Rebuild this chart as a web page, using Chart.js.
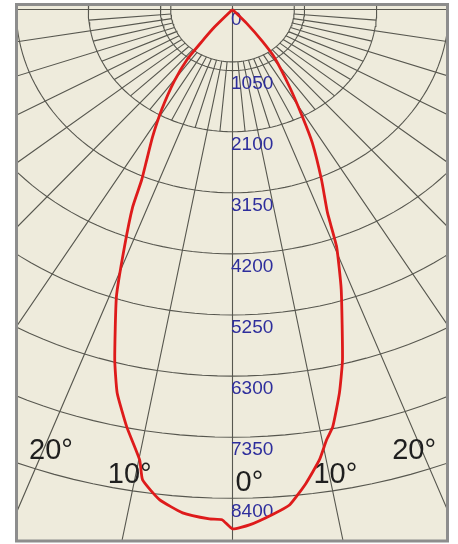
<!DOCTYPE html>
<html>
<head>
<meta charset="utf-8">
<script src="https://cdn.jsdelivr.net/npm/chart.js@4.4.1/dist/chart.umd.min.js"></script>
<style>
  html, body { margin: 0; padding: 0; background: #fff; }
  #wrap { position: relative; width: 458px; height: 544px; }
</style>
</head>
<body>
<div id="wrap"><canvas id="chart" width="458" height="544"></canvas></div>
<script>
// intensity curve, angle from nadir (deg, negative = left) and candela
const curveAngles = [-42, -41, -39, -37.6, -34.5, -30.9, -28, -25.8, -24.3, -23.2, -21.1, -18.9, -15.9, -14.3, -12.1, -9.9, -9.2, -7.2, -4.8, -2.2, -1.0,
  0, 1.6, 3.8, 5.6, 7.5, 9.3, 10.5, 11.5, 13.3, 14.9, 18.2, 20.4, 21.6, 23.9, 26.9, 28.9, 32, 36.5, 38.5, 41, 42]
const curveCandela = [0, 400, 715, 1075, 1500, 2010, 2480, 2870, 3215, 3690, 4370, 5220, 6260, 6800, 7340, 7860, 8190, 8490, 8680, 8760, 8770,
  8925, 8860, 8700, 8550, 8210, 7840, 7520, 7320, 6770, 6230, 5070, 4350, 3760, 3200, 2570, 2110, 1570, 1030, 700, 310, 0]

// grid
const ringValues = [0, 1050, 2100, 3150, 4200, 5250, 6300, 7350, 8400]
const innerBand = 900
const majorSpokes = [-80, -70, -60, -50, -40, -30, -20, -10, 10, 20, 30, 40, 50, 60, 70, 80]
const minorSpokes = [-85, -75, -65, -55, -45, -35, -25, -15, -5, 5, 15, 25, 35, 45, 55, 65, 75, 85]
const minorSpokeEnd = 2100
const angleLabels = [-20, -10, 0, 10, 20]

// pixel geometry of the (horizontally stretched) diagram
const ringPx = 61.1          // px per 1050 cd down the axis
const stretch = 1.18         // horizontal / vertical
const origin = { x: 232.5, y: 9.5 }
const area = { left: 17, right: 447, top: 5, bottom: 540 }
const pxY = ringPx / 1050
const pxX = pxY * stretch

const rad = d => d * Math.PI / 180
const polar = (deg, r) => ({ x: r * Math.sin(rad(deg)), y: r * Math.cos(rad(deg)) })
const gap = { x: NaN, y: NaN }

const ringPoints = []
ringValues.concat([innerBand]).forEach(r => {
    if (r === 0) return
    for (let d = -100; d <= 100; d += 2) ringPoints.push(polar(d, r))
    ringPoints.push(gap)
})

const spokePoints = []
majorSpokes.forEach(a => { spokePoints.push(polar(a, innerBand), polar(a, 20000), gap) })
minorSpokes.forEach(a => { spokePoints.push(polar(a, innerBand), polar(a, minorSpokeEnd), gap) })
// axis lines through the origin
spokePoints.push({ x: -20000, y: 0 }, { x: 20000, y: 0 }, gap)
spokePoints.push({ x: 0, y: -20000 }, { x: 0, y: 20000 }, gap)

const curvePoints = curveAngles.map((a, i) => polar(a, curveCandela[i]))

const gridColor = '#57574f'

const framePlugin = {
    id: 'frame',
    beforeDraw(chart) {
        const { ctx, chartArea } = chart
        ctx.save()
        ctx.fillStyle = '#ffffff'
        ctx.fillRect(0, 0, chart.width, chart.height)
        ctx.fillStyle = '#eeebdc'
        ctx.fillRect(chartArea.left, chartArea.top, chartArea.right - chartArea.left, chartArea.bottom - chartArea.top)
        ctx.restore()
    },
    afterDraw(chart) {
        const { ctx, chartArea } = chart
        ctx.save()
        ctx.strokeStyle = '#8d8d8d'
        ctx.lineWidth = 3
        ctx.strokeRect(chartArea.left - 0.5, chartArea.top - 0.5, chartArea.right - chartArea.left + 1, chartArea.bottom - chartArea.top + 1.5)
        ctx.restore()
    }
}

// text goes over the grid but under the red curve (dataset 0 is drawn last)
const labelPlugin = {
    id: 'polarLabels',
    beforeDatasetDraw(chart, args) {
        if (args.index !== 0) return
        const { ctx } = chart
        const xs = chart.scales.x, ys = chart.scales.y
        ctx.save()
        ctx.textBaseline = 'middle'
        ctx.textAlign = 'left'
        ctx.font = '19px "Liberation Sans", Arial, sans-serif'
        ctx.fillStyle = '#2e2e9c'
        ringValues.forEach(v => {
            ctx.fillText(String(v), xs.getPixelForValue(0) - 1.5, ys.getPixelForValue(v) + (v === 0 ? 10.5 : 13))
        })

        ctx.font = '29px "Liberation Sans", Arial, sans-serif'
        ctx.fillStyle = '#1f1f1f'
        const rowY = { 0: 8135, 10: 7997, 20: 7585 }
        angleLabels.forEach(a => {
            const yv = rowY[Math.abs(a)]
            const px = xs.getPixelForValue(yv * Math.tan(rad(a)))
            const py = ys.getPixelForValue(yv)
            const side = Math.sign(a)
            if (a === 0) {
                ctx.textAlign = 'left'
                ctx.fillText('0°', px + 3, py)
            } else {
                ctx.textAlign = 'center'
                const shift = Math.abs(a) === 10 ? 6 * side : -8 * side
                ctx.fillText(Math.abs(a) + '°', px + shift, py)
            }
        })
        ctx.restore()
    }
}

new Chart(document.getElementById('chart'), {
    type: 'scatter',
    data: {
        datasets: [
            {
                label: 'cd',
                data: curvePoints,
                showLine: true,
                borderColor: '#de1b1b',
                borderWidth: 2.8,
                pointRadius: 0,
                tension: 0.15,
                spanGaps: false
            },
            {
                label: 'rings',
                data: ringPoints,
                showLine: true,
                borderColor: gridColor,
                borderWidth: 1.1,
                pointRadius: 0,
                spanGaps: false,
                clip: 0
            },
            {
                label: 'spokes',
                data: spokePoints,
                showLine: true,
                borderColor: gridColor,
                borderWidth: 1.1,
                pointRadius: 0,
                spanGaps: false,
                clip: 0
            }
        ]
    },
    options: {
        responsive: false,
        animation: false,
        devicePixelRatio: 1,
        layout: {
            padding: { left: area.left, right: 458 - area.right, top: area.top, bottom: 544 - area.bottom }
        },
        plugins: { legend: { display: false }, tooltip: { enabled: false } },
        scales: {
            x: {
                type: 'linear', display: false,
                min: -(origin.x - area.left) / pxX,
                max: (area.right - origin.x) / pxX
            },
            y: {
                type: 'linear', display: false, reverse: true,
                min: -(origin.y - area.top) / pxY,
                max: (area.bottom - origin.y) / pxY
            }
        }
    },
    plugins: [framePlugin, labelPlugin]
})
</script>
</body>
</html>
